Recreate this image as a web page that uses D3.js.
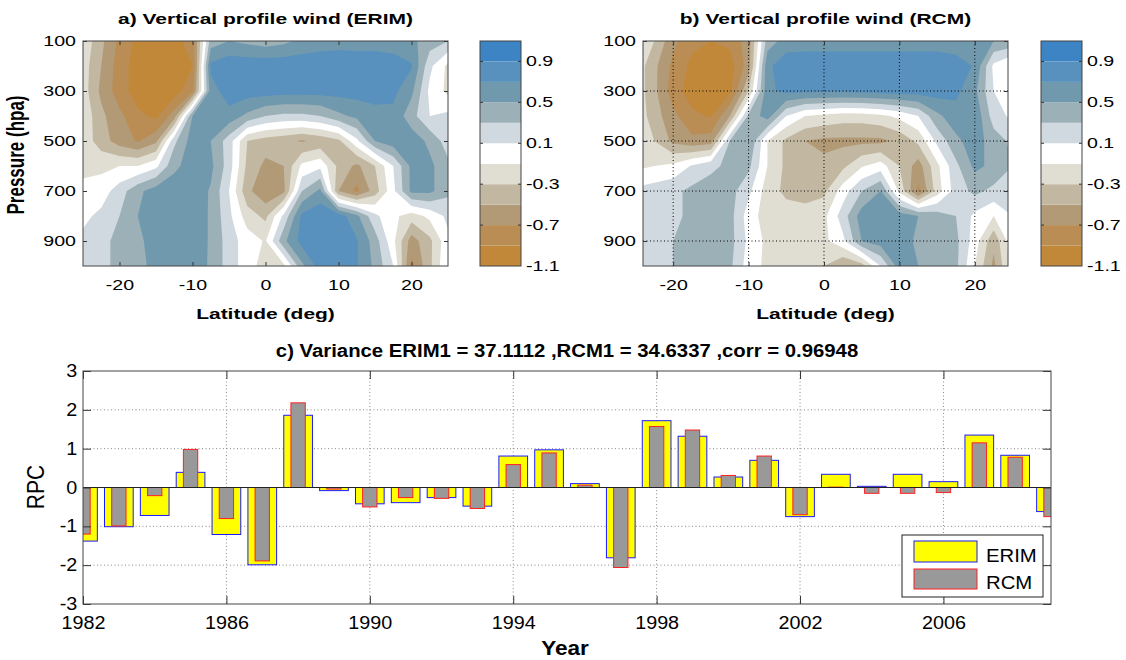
<!DOCTYPE html>
<html>
<head>
<meta charset="utf-8">
<script src="https://cdn.jsdelivr.net/npm/d3@7"></script>
<style>
  body { margin: 0; background: #fff; }
  svg { font-family: "Liberation Sans", Arial, Helvetica, sans-serif; }
</style>
</head>
<body>
<div id="fig"></div>
<script>
// wind profile grids: one row per pressure level, one column per latitude
const lats = [-25, -22.5, -20, -17.5, -15, -12.5, -10, -7.5, -5, -2.5, 0, 2.5, 5, 7.5, 10, 12.5, 15, 17.5, 20, 22.5, 25];
const pressures = [100, 200, 300, 400, 500, 600, 700, 800, 900, 1000];

const erimWind = [
  [-0.15, -0.45, -0.75, -0.95, -1.0, -0.98, -0.8, 0.4, 0.5, 0.45, 0.4, 0.45, 0.55, 0.6, 0.62, 0.62, 0.62, 0.6, 0.55, 0.4, 0.3],
  [-0.2, -0.5, -0.8, -1.0, -1.05, -1.0, -0.9, 0.75, 0.84, 0.84, 0.84, 0.84, 0.84, 0.84, 0.84, 0.82, 0.82, 0.8, 0.72, 0.15, -0.15],
  [-0.2, -0.55, -0.8, -1.0, -1.05, -1.0, -0.75, 0.6, 0.82, 0.8, 0.8, 0.78, 0.78, 0.78, 0.78, 0.78, 0.76, 0.75, 0.55, 0.05, -0.15],
  [-0.15, -0.45, -0.65, -0.85, -0.95, -0.6, 0.5, 0.62, 0.62, 0.45, 0.3, 0.25, 0.25, 0.3, 0.45, 0.55, 0.65, 0.65, 0.38, 0.1, 0.15],
  [-0.18, -0.4, -0.6, -0.72, -0.55, 0.25, 0.6, 0.5, 0.2, -0.3, -0.4, -0.45, -0.52, -0.45, -0.35, 0.05, 0.5, 0.62, 0.62, 0.45, 0.2],
  [-0.15, -0.15, -0.1, -0.1, 0.05, 0.45, 0.6, 0.55, 0.2, -0.35, -0.55, -0.5, -0.05, 0.05, -0.35, -0.55, -0.3, 0.1, 0.55, 0.55, 0.35],
  [-0.05, 0.0, 0.2, 0.45, 0.6, 0.62, 0.62, 0.48, 0.1, -0.45, -0.65, -0.55, 0.3, 0.55, -0.5, -0.75, -0.4, 0.05, 0.55, 0.55, 0.35],
  [0.05, 0.15, 0.3, 0.5, 0.6, 0.62, 0.6, 0.48, 0.15, -0.2, -0.35, 0.15, 0.75, 0.85, 0.8, 0.55, 0.15, -0.05, -0.2, -0.05, 0.15],
  [0.15, 0.25, 0.35, 0.45, 0.6, 0.62, 0.6, 0.48, 0.2, 0.0, -0.12, 0.45, 0.78, 0.88, 0.85, 0.72, 0.4, -0.05, -0.6, -0.35, 0.05],
  [0.2, 0.25, 0.35, 0.45, 0.55, 0.6, 0.58, 0.48, 0.2, 0.0, -0.2, -0.15, 0.45, 0.8, 0.82, 0.72, 0.45, 0.1, -0.75, -0.35, 0.1]
];

const rcmWind = [
  [-0.1, -0.3, -0.65, -0.85, -0.9, -0.85, -0.6, 0.4, 0.58, 0.6, 0.6, 0.6, 0.6, 0.6, 0.6, 0.6, 0.6, 0.58, 0.55, 0.5, 0.45],
  [-0.15, -0.45, -0.75, -0.95, -1.0, -1.0, -0.6, 0.65, 0.84, 0.84, 0.84, 0.84, 0.84, 0.84, 0.84, 0.84, 0.84, 0.8, 0.68, 0.05, -0.15],
  [-0.15, -0.45, -0.8, -1.0, -1.0, -0.95, -0.3, 0.65, 0.76, 0.74, 0.74, 0.74, 0.76, 0.78, 0.8, 0.8, 0.8, 0.75, 0.55, 0.1, -0.12],
  [-0.15, -0.4, -0.65, -0.85, -0.92, -0.5, 0.35, 0.6, 0.1, -0.1, -0.15, -0.2, -0.2, -0.15, -0.05, 0.1, 0.45, 0.62, 0.66, 0.2, 0.05],
  [-0.15, -0.3, -0.55, -0.65, -0.6, 0.3, 0.5, -0.1, -0.35, -0.5, -0.55, -0.55, -0.55, -0.55, -0.45, -0.25, 0.15, 0.45, 0.6, 0.4, 0.25],
  [-0.15, -0.1, -0.05, 0.12, 0.25, 0.35, 0.35, -0.1, -0.35, -0.4, -0.45, -0.35, -0.12, 0.0, -0.3, -0.6, -0.15, 0.25, 0.55, 0.45, 0.3],
  [0.15, 0.2, 0.25, 0.35, 0.4, 0.38, 0.15, -0.2, -0.35, -0.4, -0.35, 0.0, 0.3, 0.5, -0.15, -0.75, -0.2, 0.2, 0.35, 0.25, 0.2],
  [0.15, 0.2, 0.25, 0.35, 0.4, 0.38, 0.0, -0.2, -0.2, -0.2, -0.15, 0.2, 0.6, 0.62, 0.6, 0.5, 0.4, 0.3, 0.05, -0.1, 0.1],
  [0.15, 0.2, 0.3, 0.35, 0.4, 0.38, 0.05, -0.15, -0.15, -0.15, -0.15, 0.05, 0.5, 0.6, 0.62, 0.45, 0.4, 0.35, 0.0, -0.45, 0.05],
  [0.15, 0.2, 0.3, 0.35, 0.35, 0.35, 0.0, -0.15, -0.15, -0.2, -0.3, -0.5, -0.4, 0.1, 0.6, 0.5, 0.4, 0.35, -0.1, -0.55, 0.0]
];

const levels = [-1.1, -0.9, -0.7, -0.5, -0.3, -0.1, 0.1, 0.3, 0.5, 0.7, 0.9, 1.1];
const levelColors = ["#c2883a", "#b98d53", "#b39a77", "#c2b7a1", "#e0ddd2", "#ffffff",
                     "#d0d9df", "#9cb0b8", "#7199ae", "#5891bd", "#3c84c3"];
const cbarTicks = [0.9, 0.5, 0.1, -0.3, -0.7, -1.1];
const latTicks = [-20, -10, 0, 10, 20];
const presTicks = [100, 300, 500, 700, 900];

// leading principal components
const years = [1982, 1983, 1984, 1985, 1986, 1987, 1988, 1989, 1990, 1991, 1992, 1993, 1994, 1995,
               1996, 1997, 1998, 1999, 2000, 2001, 2002, 2003, 2004, 2005, 2006, 2007, 2008, 2009];
const erimRPC = [-1.38, -1.01, -0.72, 0.39, -1.21, -1.99, 1.86, -0.08, -0.42, -0.39, -0.26, -0.48, 0.81, 0.97,
                 0.10, -1.81, 1.72, 1.32, 0.27, 0.70, -0.75, 0.34, 0.03, 0.34, 0.15, 1.35, 0.83, -0.62];
const rcmRPC = [-1.20, -0.99, -0.21, 0.98, -0.80, -1.89, 2.18, -0.04, -0.50, -0.26, -0.28, -0.54, 0.59, 0.89,
                0.06, -2.06, 1.57, 1.48, 0.31, 0.81, -0.70, 0.01, -0.15, -0.15, -0.13, 1.15, 0.78, -0.75];
const yearTicks = [1982, 1986, 1990, 1994, 1998, 2002, 2006];
const rpcTicks = [-3, -2, -1, 0, 1, 2, 3];

const TOP_SX = 1.4, BOT_SX = 1.13;   // the figure is stretched sideways

const svg = d3.select("#fig").append("svg")
    .attr("width", 1126)
    .attr("height", 660);

function addText(g, x, y, str, size, o = {}) {
    return g.append("text")
        .attr("transform", `translate(${x},${y}) scale(${o.sx || 1},1)` + (o.rotate ? ` rotate(${o.rotate})` : ""))
        .attr("text-anchor", o.anchor || "middle")
        .attr("dy", o.dy || null)
        .attr("font-size", size)
        .attr("font-weight", o.bold ? "bold" : "normal")
        .attr("fill", "#000")
        .text(str);
}

function styleAxis(ax, size, sx) {
    ax.select(".domain").remove();
    ax.attr("font-size", size).attr("font-family", null);
    ax.selectAll("line").attr("stroke", "#333");
    ax.selectAll("text").attr("fill", "#000").attr("transform", `scale(${sx},1)`);
}

const plain = d => String(d);

function contourPanel(id, data, left, latDomain, title, withGrid, withYLabel, cbLeft) {
    const x = d3.scaleLinear().domain(latDomain).range([left, left + 365]);
    const y = d3.scaleLinear().domain([100, 1000]).range([41, 266]);
    const g = svg.append("g");

    g.append("clipPath").attr("id", "clip-" + id)
      .append("rect")
        .attr("x", left).attr("y", 41)
        .attr("width", 365).attr("height", 225);

    const nx = lats.length, ny = pressures.length;
    const dLat = lats[1] - lats[0], dP = pressures[1] - pressures[0];
    const toPx = d3.geoTransform({
        point(cx, cy) {
            this.stream.point(x(lats[0] + (cx - 0.5) * dLat), y(pressures[0] + (cy - 0.5) * dP));
        }
    });
    const contours = d3.contours()
        .size([nx, ny])
        .thresholds(levels.slice(1, -1))
        (data.flat());

    const field = g.append("g").attr("clip-path", `url(#clip-${id})`);
    field.append("rect")
        .attr("x", left).attr("y", 41)
        .attr("width", 365).attr("height", 225)
        .attr("fill", levelColors[0]);
    field.selectAll("path")
        .data(contours)
        .join("path")
        .attr("d", d3.geoPath(toPx))
        .attr("fill", (d, i) => levelColors[i + 1]);

    if (withGrid) {
        const grid = g.append("g")
            .attr("stroke", "#000")
            .attr("stroke-width", 1)
            .attr("stroke-dasharray", "1,2.5");
        grid.selectAll(".gx").data(latTicks).join("line")
            .attr("x1", d => x(d)).attr("x2", d => x(d))
            .attr("y1", 41).attr("y2", 266);
        grid.selectAll(".gy").data(presTicks.slice(1)).join("line")
            .attr("x1", left).attr("x2", left + 365)
            .attr("y1", d => y(d)).attr("y2", d => y(d));
    }

    const ab = g.append("g").attr("transform", "translate(0,266)")
        .call(d3.axisBottom(x).tickValues(latTicks).tickFormat(plain).tickSize(-4).tickPadding(14));
    styleAxis(ab, 14, TOP_SX);
    const at = g.append("g").attr("transform", "translate(0,41)")
        .call(d3.axisTop(x).tickValues(latTicks).tickSize(-4).tickFormat(""));
    styleAxis(at, 14, 1);
    const al = g.append("g").attr("transform", `translate(${left},0)`)
        .call(d3.axisLeft(y).tickValues(presTicks).tickFormat(plain).tickSize(-4).tickPadding(5));
    styleAxis(al, 14, TOP_SX);
    const ar = g.append("g").attr("transform", `translate(${left + 365},0)`)
        .call(d3.axisRight(y).tickValues(presTicks).tickSize(-4).tickFormat(""));
    styleAxis(ar, 14, 1);

    g.append("rect")
        .attr("x", left).attr("y", 41)
        .attr("width", 365).attr("height", 225)
        .attr("fill", "none")
        .attr("stroke", "#444");

    addText(g, left + 182.5, 24, title, 15, {bold: true, sx: TOP_SX});
    addText(g, left + 182.5, 319, "Latitude (deg)", 15, {bold: true, sx: TOP_SX});
    if (withYLabel) {
        addText(g, 24, 155, "Pressure (hpa)", 17, {bold: true, sx: TOP_SX, rotate: -90});
    }

    // colour bar
    const cy = d3.scaleLinear().domain([-1.1, 1.1]).range([266, 41]);
    const cb = g.append("g");
    cb.selectAll("rect")
        .data(levelColors)
        .join("rect")
        .attr("x", cbLeft)
        .attr("y", (d, i) => cy(levels[i + 1]))
        .attr("width", 41)
        .attr("height", (d, i) => cy(levels[i]) - cy(levels[i + 1]))
        .attr("fill", d => d);
    cb.selectAll(".tk").data(cbarTicks.slice(0, -1)).join("path")
        .attr("d", d => `M${cbLeft},${cy(d)}h3M${cbLeft + 41},${cy(d)}h-3`)
        .attr("stroke", "#333");
    cb.append("rect")
        .attr("x", cbLeft).attr("y", 41)
        .attr("width", 41).attr("height", 225)
        .attr("fill", "none")
        .attr("stroke", "#444");
    cbarTicks.forEach(t => {
        addText(cb, cbLeft + 46, cy(t), t.toFixed(1), 14, {anchor: "start", dy: "0.35em", sx: TOP_SX});
    });
}

contourPanel("a", erimWind, 83, [-25, 25], "a) Vertical profile wind (ERIM)", false, true, 480);
contourPanel("b", rcmWind, 643, [-24, 24.4], "b) Vertical profile wind (RCM)", true, false, 1041);

// ---- panel c: bar chart of the principal components ----
const x = d3.scaleLinear().domain([1982, 2009]).range([83, 1051]);
const y = d3.scaleLinear().domain([-3, 3]).range([604, 371]);
const c = svg.append("g");

c.append("clipPath").attr("id", "clip-c")
  .append("rect")
    .attr("x", 83).attr("y", 371)
    .attr("width", 968).attr("height", 233);

const grid = c.append("g")
    .attr("stroke", "#8a8a8a")
    .attr("stroke-dasharray", "1,2.5");
grid.selectAll(".gx").data(yearTicks.slice(1)).join("line")
    .attr("x1", d => x(d)).attr("x2", d => x(d))
    .attr("y1", 371).attr("y2", 604);
grid.selectAll(".gy").data(rpcTicks.filter(d => d !== 0 && Math.abs(d) < 3)).join("line")
    .attr("x1", 83).attr("x2", 1051)
    .attr("y1", d => y(d)).attr("y2", d => y(d));

const bars = c.append("g").attr("clip-path", "url(#clip-c)");
bars.selectAll(".erim")
    .data(years)
    .join("rect")
    .attr("x", d => x(d - 0.4))
    .attr("width", x(1982.8) - x(1982))
    .attr("y", (d, i) => y(Math.max(0, erimRPC[i])))
    .attr("height", (d, i) => Math.abs(y(erimRPC[i]) - y(0)))
    .attr("fill", "#ffff00")
    .attr("stroke", "#1a1aff");
bars.selectAll(".rcm")
    .data(years)
    .join("rect")
    .attr("x", d => x(d - 0.2))
    .attr("width", x(1982.4) - x(1982))
    .attr("y", (d, i) => y(Math.max(0, rcmRPC[i])))
    .attr("height", (d, i) => Math.abs(y(rcmRPC[i]) - y(0)))
    .attr("fill", "#999999")
    .attr("stroke", "#ff2020");

c.append("line")
    .attr("x1", 83).attr("x2", 1051)
    .attr("y1", y(0)).attr("y2", y(0))
    .attr("stroke", "#222");

const cb = c.append("g").attr("transform", "translate(0,604)")
    .call(d3.axisBottom(x).tickValues(yearTicks).tickFormat(plain).tickSize(-8).tickPadding(13));
styleAxis(cb, 17.5, BOT_SX);
const ct = c.append("g").attr("transform", "translate(0,371)")
    .call(d3.axisTop(x).tickValues(yearTicks).tickSize(-8).tickFormat(""));
styleAxis(ct, 17.5, 1);
const cl = c.append("g").attr("transform", "translate(83,0)")
    .call(d3.axisLeft(y).tickValues(rpcTicks).tickFormat(plain).tickSize(-8).tickPadding(5));
styleAxis(cl, 17.5, BOT_SX);
const cr = c.append("g").attr("transform", "translate(1051,0)")
    .call(d3.axisRight(y).tickValues(rpcTicks).tickSize(-8).tickFormat(""));
styleAxis(cr, 17.5, 1);

c.append("rect")
    .attr("x", 83).attr("y", 371)
    .attr("width", 968).attr("height", 233)
    .attr("fill", "none")
    .attr("stroke", "#444");

addText(c, 567, 357, "c) Variance ERIM1 = 37.1112 ,RCM1 = 34.6337 ,corr = 0.96948", 18, {bold: true, sx: BOT_SX});
addText(c, 565, 655, "Year", 20, {bold: true, sx: BOT_SX});
addText(c, 44, 487, "RPC", 21, {sx: BOT_SX, rotate: -90});

// legend
const lg = c.append("g");
lg.append("rect")
    .attr("x", 902).attr("y", 535)
    .attr("width", 141).attr("height", 62)
    .attr("fill", "#fff")
    .attr("stroke", "#222");
lg.append("rect")
    .attr("x", 914).attr("y", 541).attr("width", 63).attr("height", 21)
    .attr("fill", "#ffff00").attr("stroke", "#1a1aff");
lg.append("rect")
    .attr("x", 914).attr("y", 569).attr("width", 63).attr("height", 20)
    .attr("fill", "#999999").attr("stroke", "#ff2020");
addText(lg, 986, 562, "ERIM", 18, {anchor: "start", sx: BOT_SX});
addText(lg, 986, 589, "RCM", 18, {anchor: "start", sx: BOT_SX});
</script>
</body>
</html>
